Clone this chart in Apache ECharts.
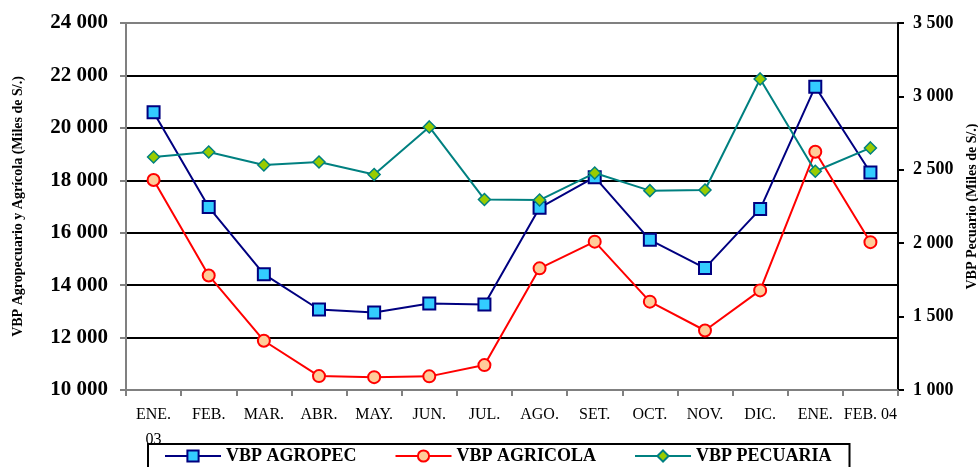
<!DOCTYPE html>
<html>
<head>
<meta charset="utf-8">
<script src="https://cdn.jsdelivr.net/npm/echarts@6/dist/echarts.min.js"></script>
<style>
  html, body { margin: 0; padding: 0; background: #fff; }
  #chart { width: 978px; height: 467px; }
</style>
</head>
<body>
<div id="chart"></div>
<script>
const months = ['ENE.\n03', 'FEB.', 'MAR.', 'ABR.', 'MAY.', 'JUN.', 'JUL.', 'AGO.', 'SET.', 'OCT.', 'NOV.', 'DIC.', 'ENE.', 'FEB. 04'];
const agropec = [20600, 16980, 14420, 13070, 12960, 13300, 13260, 16950, 18120, 15730, 14650, 16900, 21570, 18300];
const agricola = [18010, 14370, 11880, 10530, 10490, 10520, 10950, 14640, 15660, 13370, 12270, 13800, 19090, 15640];
const pecuaria = [2587, 2621, 2533, 2553, 2468, 2792, 2298, 2294, 2478, 2358, 2362, 3119, 2490, 2649];

const serif = '"Liberation Serif", "Times New Roman", serif';

function fmt(v) {
  return String(v).replace(/\B(?=(\d{3})+(?!\d))/g, ' ');
}

const chart = echarts.init(document.getElementById('chart'));
chart.setOption({
  backgroundColor: '#fff',
  animation: false,
  textStyle: { fontFamily: serif, color: '#000' },
  grid: { left: 126, right: 80, top: 23, bottom: 77, containLabel: false, outerBoundsMode: 'none' },
  legend: {
    bottom: -12,
    left: 148,
    width: 698,
    borderColor: '#000',
    borderWidth: 2,
    padding: [3, 18, 14, 16],
    itemGap: 38,
    itemWidth: 56,
    itemHeight: 14,
    textStyle: { fontFamily: serif, fontWeight: 'bold', fontSize: 18, color: '#000' },
    data: ['VBP AGROPEC', 'VBP AGRICOLA', 'VBP PECUARIA']
  },
  xAxis: {
    type: 'category',
    data: months,
    boundaryGap: true,
    axisLine: { lineStyle: { color: '#808080', width: 2 } },
    axisTick: { show: true, length: 6, lineStyle: { color: '#808080', width: 2 } },
    axisLabel: { fontFamily: serif, fontSize: 16, color: '#000', margin: 12, lineHeight: 25, interval: 0 }
  },
  yAxis: [
    {
      type: 'value',
      min: 10000,
      max: 24000,
      interval: 2000,
      name: 'VBP Agropecuario y Agrícola (Miles de S/.)',
      nameLocation: 'middle',
      nameGap: 101,
      nameTextStyle: { fontFamily: serif, fontWeight: 'bold', fontSize: 14, color: '#000' },
      axisLine: { show: true, lineStyle: { color: '#808080', width: 2 } },
      axisTick: { show: true, length: 6, lineStyle: { color: '#808080', width: 2 } },
      axisLabel: { fontFamily: serif, fontWeight: 'bold', fontSize: 21, color: '#000', margin: 18, formatter: fmt },
      splitLine: {
        show: true,
        lineStyle: { color: ['#808080', '#000', '#000', '#000', '#000', '#000', '#000', '#808080'], width: 2 }
      }
    },
    {
      type: 'value',
      min: 1000,
      max: 3500,
      interval: 500,
      position: 'right',
      name: 'VBP Pecuario (Miles de S/.)',
      nameLocation: 'middle',
      nameGap: 67,
      nameRotate: 90,
      nameTextStyle: { fontFamily: serif, fontWeight: 'bold', fontSize: 14, color: '#000' },
      axisLine: { show: true, lineStyle: { color: '#000', width: 2 } },
      axisTick: { show: true, length: 6, lineStyle: { color: '#000', width: 2 } },
      axisLabel: { fontFamily: serif, fontWeight: 'bold', fontSize: 18, color: '#000', margin: 15, formatter: fmt },
      splitLine: { show: false }
    }
  ],
  series: [
    {
      name: 'VBP AGROPEC',
      type: 'line',
      yAxisIndex: 0,
      data: agropec,
      symbol: 'rect',
      symbolSize: 12,
      lineStyle: { color: '#000080', width: 2 },
      itemStyle: { color: '#33CCFF', borderColor: '#000080', borderWidth: 2 },
      z: 3
    },
    {
      name: 'VBP AGRICOLA',
      type: 'line',
      yAxisIndex: 0,
      data: agricola,
      symbol: 'circle',
      symbolSize: 12,
      lineStyle: { color: '#FF0000', width: 2 },
      itemStyle: { color: '#FFCC99', borderColor: '#FF0000', borderWidth: 2 },
      z: 2
    },
    {
      name: 'VBP PECUARIA',
      type: 'line',
      yAxisIndex: 1,
      data: pecuaria,
      symbol: 'diamond',
      symbolSize: 12,
      lineStyle: { color: '#008080', width: 2 },
      itemStyle: { color: '#99CC00', borderColor: '#008080', borderWidth: 1.5 },
      z: 4
    }
  ]
});
</script>
</body>
</html>
